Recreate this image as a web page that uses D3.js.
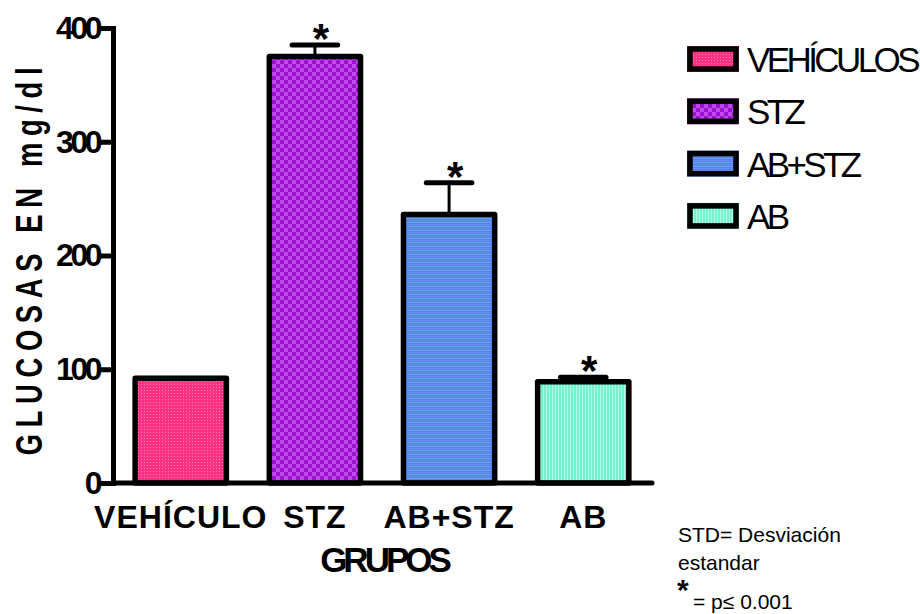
<!DOCTYPE html>
<html lang="es">
<head>
    <meta charset="UTF-8">
    <title>Glucosas por grupo</title>
    <script src="https://d3js.org/d3.v7.min.js"></script>
    <style>
        body { margin: 0; background: #fff; }
        svg { display: block; font-family: Arial, "Liberation Sans", sans-serif; }
    </style>
</head>
<body>
    <svg width="920" height="614"></svg>

    <script>
        const groups = ['VEHÍCULO', 'STZ', 'AB+STZ', 'AB'];
        const legendLabels = ['VEHÍCULOS', 'STZ', 'AB+STZ', 'AB'];
        const means = [92, 375, 236, 89];
        const errors = [0, 10, 28, 4];
        const significant = [false, true, true, true];
        const yTicks = [0, 100, 200, 300, 400];

        const svg = d3.select('svg');
        const defs = svg.append('defs');

        // fill textures, roughly like the original hatching
        const pink = defs.append('pattern').attr('id', 'p0')
            .attr('width', 3).attr('height', 3).attr('patternUnits', 'userSpaceOnUse');
        pink.append('rect').attr('width', 3).attr('height', 3).attr('fill', '#ff3184');
        pink.append('rect').attr('width', 1).attr('height', 1).attr('fill', '#ff7ab0');

        const purple = defs.append('pattern').attr('id', 'p1')
            .attr('width', 8).attr('height', 8).attr('patternUnits', 'userSpaceOnUse');
        purple.append('rect').attr('width', 8).attr('height', 8).attr('fill', '#9d12d2');
        purple.append('rect').attr('width', 4).attr('height', 4).attr('fill', '#bb4ae8');
        purple.append('rect').attr('x', 4).attr('y', 4).attr('width', 4).attr('height', 4).attr('fill', '#bb4ae8');

        const blue = defs.append('pattern').attr('id', 'p2')
            .attr('width', 4).attr('height', 4).attr('patternUnits', 'userSpaceOnUse');
        blue.append('rect').attr('width', 4).attr('height', 4).attr('fill', '#4a82ff');
        blue.append('rect').attr('width', 4).attr('height', 1).attr('fill', '#6f8cf0');
        blue.append('rect').attr('y', 2).attr('width', 4).attr('height', 1).attr('fill', '#6da2ff');

        const aqua = defs.append('pattern').attr('id', 'p3')
            .attr('width', 3).attr('height', 3).attr('patternUnits', 'userSpaceOnUse');
        aqua.append('rect').attr('width', 3).attr('height', 3).attr('fill', '#74f2cc');
        aqua.append('rect').attr('width', 1).attr('height', 3).attr('fill', '#b0ffe8');

        const edgeColors = ['#e0306f', '#9010c0', '#3a60d8', '#50c090'];

        const x = d3.scaleBand()
            .domain(groups)
            .range([113, 651])
            .paddingInner(0.32)
            .paddingOuter(0.165);

        const y = d3.scaleLinear()
            .domain([0, 400])
            .range([483, 28]);

        // bars
        svg.selectAll('rect.bar')
            .data(groups)
            .enter().append('rect')
            .attr('class', 'bar')
            .attr('x', d => x(d))
            .attr('y', (d, i) => y(means[i]))
            .attr('width', x.bandwidth())
            .attr('height', (d, i) => y(0) - y(means[i]))
            .attr('fill', (d, i) => `url(#p${i})`)
            .attr('stroke', '#000')
            .attr('stroke-width', 5.5)
            .attr('stroke-linejoin', 'round');

        // error bars
        const err = svg.append('g');
        groups.forEach((g, i) => {
            if (!errors[i]) return;
            const cx = x(g) + x.bandwidth() / 2;
            err.append('line')
                .attr('x1', cx).attr('x2', cx)
                .attr('y1', y(means[i])).attr('y2', y(means[i] + errors[i]))
                .attr('stroke', '#000').attr('stroke-width', 3);
            err.append('line')
                .attr('x1', cx - x.bandwidth() * 0.25).attr('x2', cx + x.bandwidth() * 0.25)
                .attr('y1', y(means[i] + errors[i])).attr('y2', y(means[i] + errors[i]))
                .attr('stroke', '#000').attr('stroke-width', 5).attr('stroke-linecap', 'round');
        });

        // significance stars
        svg.selectAll('text.star')
            .data(groups.filter((g, i) => significant[i]))
            .enter().append('text')
            .attr('class', 'star')
            .attr('x', d => x(d) + x.bandwidth() / 2 + 6)
            .attr('y', d => {
                const i = groups.indexOf(d);
                return Math.min(y(means[i] + errors[i]), y(means[i])) + 8;
            })
            .attr('text-anchor', 'middle')
            .attr('font-size', 42)
            .attr('font-weight', 'bold')
            .text('*');

        // y axis
        const yAxis = d3.axisLeft(y)
            .tickValues(yTicks)
            .tickSize(13)
            .tickSizeOuter(0)
            .tickPadding(1);

        const yg = svg.append('g')
            .attr('transform', 'translate(113,0)')
            .call(yAxis);
        yg.select('.domain').attr('stroke-width', 5).attr('stroke-linecap', 'square');
        yg.selectAll('.tick line').attr('stroke-width', 5);
        yg.selectAll('.tick text')
            .attr('font-family', 'Arial, "Liberation Sans", sans-serif')
            .attr('font-size', 32)
            .attr('font-weight', 'bold')
            .attr('letter-spacing', -3.5)
            .attr('fill', '#000');

        // x axis
        const xAxis = d3.axisBottom(x).tickSize(0).tickSizeOuter(0);
        const xg = svg.append('g')
            .attr('transform', 'translate(0,483)')
            .call(xAxis);
        xg.select('.domain')
            .attr('d', 'M113,0H652')
            .attr('stroke-width', 5).attr('stroke-linecap', 'round');
        xg.selectAll('.tick text')
            .attr('y', 45).attr('dy', 0)
            .attr('font-family', 'Arial, "Liberation Sans", sans-serif')
            .attr('font-size', 32)
            .attr('font-weight', 'bold')
            .attr('letter-spacing', 1)
            .attr('fill', '#000');

        // axis titles
        svg.append('text')
            .attr('transform', 'translate(42,258) rotate(-90) scale(0.74,1)')
            .attr('text-anchor', 'middle')
            .attr('font-size', 37)
            .attr('font-weight', 'bold')
            .attr('letter-spacing', 9)
            .text('GLUCOSAS EN mg/dl');

        svg.append('text')
            .attr('x', 384)
            .attr('y', 572)
            .attr('text-anchor', 'middle')
            .attr('font-size', 35)
            .attr('font-weight', 'bold')
            .attr('letter-spacing', -4)
            .text('GRUPOS');

        // legend
        const legend = svg.append('g');
        legendLabels.forEach((label, i) => {
            const cy = 59 + i * 52.3;
            legend.append('rect')
                .attr('x', 687.5).attr('y', cy - 12.5)
                .attr('width', 51).attr('height', 25)
                .attr('fill', 'none')
                .attr('stroke', edgeColors[i]).attr('stroke-width', 1);
            legend.append('rect')
                .attr('x', 690).attr('y', cy - 10)
                .attr('width', 46).attr('height', 20)
                .attr('fill', `url(#p${i})`)
                .attr('stroke', '#000').attr('stroke-width', 5.5);
            legend.append('text')
                .attr('x', 747).attr('y', cy + 13)
                .attr('font-size', 35)
                .attr('letter-spacing', -3.6)
                .text(label);
        });

        // notes
        const notes = svg.append('g').attr('font-size', 21).attr('fill', '#000');
        notes.append('text').attr('x', 678).attr('y', 542).text('STD= Desviación');
        notes.append('text').attr('x', 678).attr('y', 570).text('estandar');
        notes.append('text').attr('x', 677).attr('y', 600)
            .attr('font-size', 30).attr('font-weight', 'bold').text('*');
        notes.append('text').attr('x', 693).attr('y', 609).text('= p≤ 0.001');
    </script>
</body>
</html>
